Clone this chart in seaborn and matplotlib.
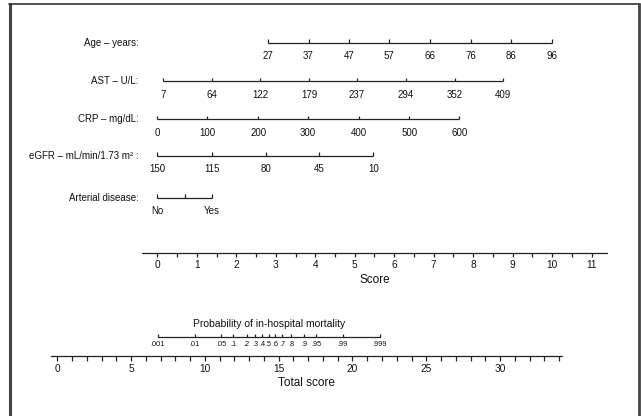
import numpy as np
import matplotlib
matplotlib.use("Agg")
import matplotlib.pyplot as plt
import seaborn as sns

# nomogram rows: tick labels and the points (0-11 score scale) each one sits at
var_names = ["Age – years:", "AST – U/L:", "CRP – mg/dL:",
             "eGFR – mL/min/1.73 m² :", "Arterial disease:"]
age_labels = ["27", "37", "47", "57", "66", "76", "86", "96"]
age_points = [2.81, 3.83, 4.86, 5.87, 6.90, 7.94, 8.96, 9.99]
ast_labels = ["7", "64", "122", "179", "237", "294", "352", "409"]
ast_points = [0.15, 1.38, 2.60, 3.84, 5.06, 6.30, 7.54, 8.76]
crp_labels = ["0", "100", "200", "300", "400", "500", "600"]
crp_points = [0.0, 1.27, 2.56, 3.82, 5.10, 6.38, 7.65]
egfr_labels = ["150", "115", "80", "45", "10"]
egfr_points = [0.0, 1.38, 2.75, 4.10, 5.47]
art_labels = ["No", "", "Yes"]
art_points = [0.0, 0.70, 1.39]

score_ticks = np.arange(0, 11.5, 0.5)
score_labels = np.arange(0, 12)
total_ticks = np.arange(0, 35)
total_labels = np.arange(0, 35, 5)

# probability scale: total = intercept + slope * logit(p)
prob_ticks = [.001, .01, .05, .1, .2, .3, .4, .5, .6, .7, .8, .9, .95, .99, .999]
prob_labels = [".001", ".01", ".05", ".1", ".2", ".3", ".4", ".5", ".6", ".7",
               ".8", ".9", ".95", ".99", ".999"]
prob_intercept = 14.33
prob_slope = 1.09

rows = [(age_labels, age_points), (ast_labels, ast_points), (crp_labels, crp_points),
        (egfr_labels, egfr_points), (art_labels, art_points)]

sns.set_theme(style="white")
plt.rcParams['font.family'] = ['Liberation Sans', 'DejaVu Sans']

W, H = 641, 416
fig = plt.figure(figsize=(W / 100, H / 100), dpi=100)

# both layers span the whole figure; y is in pixel rows, x in score units
ax_top = fig.add_axes([0, 0, 1, 1])
ax_top.set_xlim(-157.3 / 39.49, (W - 157.3) / 39.49)
ax_top.set_ylim(H, 0)
ax_top.axis('off')
ax_top.patch.set_alpha(0)

ax_bot = fig.add_axes([0, 0, 1, 1])
ax_bot.set_xlim(-57.3 / 14.76, (W - 57.3) / 14.76)
ax_bot.set_ylim(H, 0)
ax_bot.axis('off')
ax_bot.patch.set_alpha(0)

lc = '#222222'
lw = 0.9
tc = '#111111'
row_y = [42.7, 81.0, 119.3, 155.7, 197.7]
name_x = -0.47  # score units, right edge of the row names

for name, (labels, pts), y in zip(var_names, rows, row_y):
    ax_top.plot([pts[0], pts[-1]], [y, y], color=lc, lw=lw, solid_capstyle='butt')
    ax_top.vlines(pts, y - 3.5, y, color=lc, lw=lw)
    for lab, p in zip(labels, pts):
        ax_top.text(p, y + 13.5, lab, ha='center', va='center', fontsize=7, color=tc)
    ax_top.text(name_x, y, name, ha='right', va='center', fontsize=7, color=tc)

# score axis
sy = 252.7
ax_top.plot([-0.39, 11.38], [sy, sy], color=lc, lw=lw)
ax_top.vlines(score_ticks, sy, sy + 4, color=lc, lw=lw)
for s in score_labels:
    ax_top.text(s, sy + 12.5, str(s), ha='center', va='center', fontsize=7.3, color=tc)
ax_top.text(5.5, sy + 27.5, "Score", ha='center', va='center', fontsize=8.5, color=tc)

# total score axis
ty = 355.7
ax_bot.plot([-0.43, 34.2], [ty, ty], color=lc, lw=lw)
ax_bot.vlines(total_ticks, ty, ty + 5, color=lc, lw=lw)
for t in total_labels:
    ax_bot.text(t, ty + 12.8, str(t), ha='center', va='center', fontsize=7.3, color=tc)
ax_bot.text(16.9, ty + 27, "Total score", ha='center', va='center', fontsize=8.5, color=tc)

# probability axis
py = 336.7
p = np.array(prob_ticks)
px = prob_intercept + prob_slope * np.log(p / (1 - p))
ax_bot.plot([px[0], px[-1]], [py, py], color=lc, lw=lw)
ax_bot.vlines(px, py - 3, py, color=lc, lw=lw)
for lab, x in zip(prob_labels, px):
    ax_bot.text(x, py + 7.5, lab, ha='center', va='center', fontsize=5.3, color=tc)
ax_bot.text((px[0] + px[-1]) / 2, py - 12.7, "Probability of in-hospital mortality",
            ha='center', va='center', fontsize=7.5, color=tc)

# frame around the figure (open at the bottom)
fig.add_artist(plt.Line2D([9.6 / W, 9.6 / W], [0, 1 - 4.3 / H], transform=fig.transFigure,
                          color='#444444', lw=2.2))
fig.add_artist(plt.Line2D([8.5 / W, 639.5 / W], [1 - 4.3 / H, 1 - 4.3 / H], transform=fig.transFigure,
                          color='#333333', lw=1.2))
fig.add_artist(plt.Line2D([639.3 / W, 639.3 / W], [0, 1 - 4.3 / H], transform=fig.transFigure,
                          color='#444444', lw=2.0))

fig.savefig("out.png", dpi=100)
